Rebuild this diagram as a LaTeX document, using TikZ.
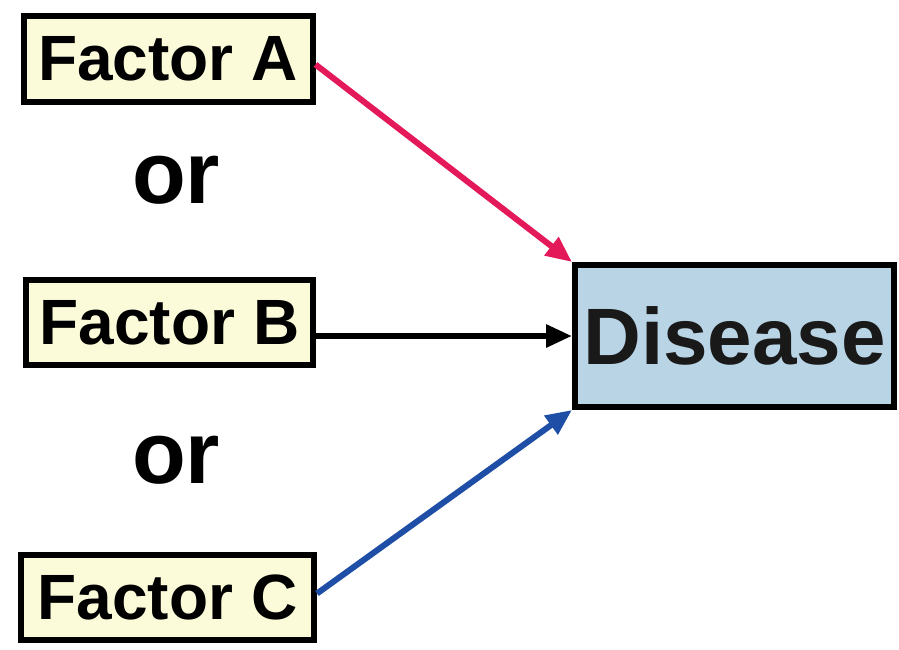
\documentclass[tikz,border=0pt]{standalone}
\usepackage{fontspec}
\setmainfont{Liberation Sans}
\usetikzlibrary{arrows.meta}
\definecolor{boxyellow}{HTML}{FBFAD9}
\definecolor{boxblue}{HTML}{B9D5E5}
\definecolor{arrred}{HTML}{E3195A}
\definecolor{arrblue}{HTML}{1F4EA6}
\begin{document}
\begin{tikzpicture}[x=1pt,y=-1pt,
  factor/.style={draw=black, line width=6pt, fill=boxyellow, inner sep=0pt,
    font=\fontsize{64}{70}\selectfont\bfseries, text=black},
  disease/.style={draw=black, line width=6pt, fill=boxblue, inner sep=0pt,
    minimum width=319pt, minimum height=142pt,
    font=\fontsize{80}{90}\selectfont\bfseries, text=black!90},
  ortext/.style={font=\fontsize{88}{96}\selectfont\bfseries, text=black},
  conn/.style={line width=6pt, -{Triangle[length=26pt,width=22pt]}}]
\useasboundingbox (0,0) rectangle (899,649);
\node[factor, minimum width=289pt, minimum height=86pt] (A) at (168,58.5) {Factor A};
\node[factor, minimum width=287pt, minimum height=85pt] (B) at (169.5,322.5) {Factor B};
\node[factor, minimum width=293pt, minimum height=85pt] (C) at (167.5,597.5) {Factor C};
\node[disease] (D) at (734.5,336) {Disease};
\node[ortext] (or1) at (176,180) {or};
\node[ortext] (or2) at (176,460) {or};
\draw[conn, draw=arrred, fill=arrred] ([yshift=-6pt]A.east) -- (D.north west);
\draw[conn, draw=black] (B.east |- D.west) -- (D.west);
\draw[conn, draw=arrblue, fill=arrblue] ([yshift=4pt]C.east) -- (D.south west);
\end{tikzpicture}
\end{document}
